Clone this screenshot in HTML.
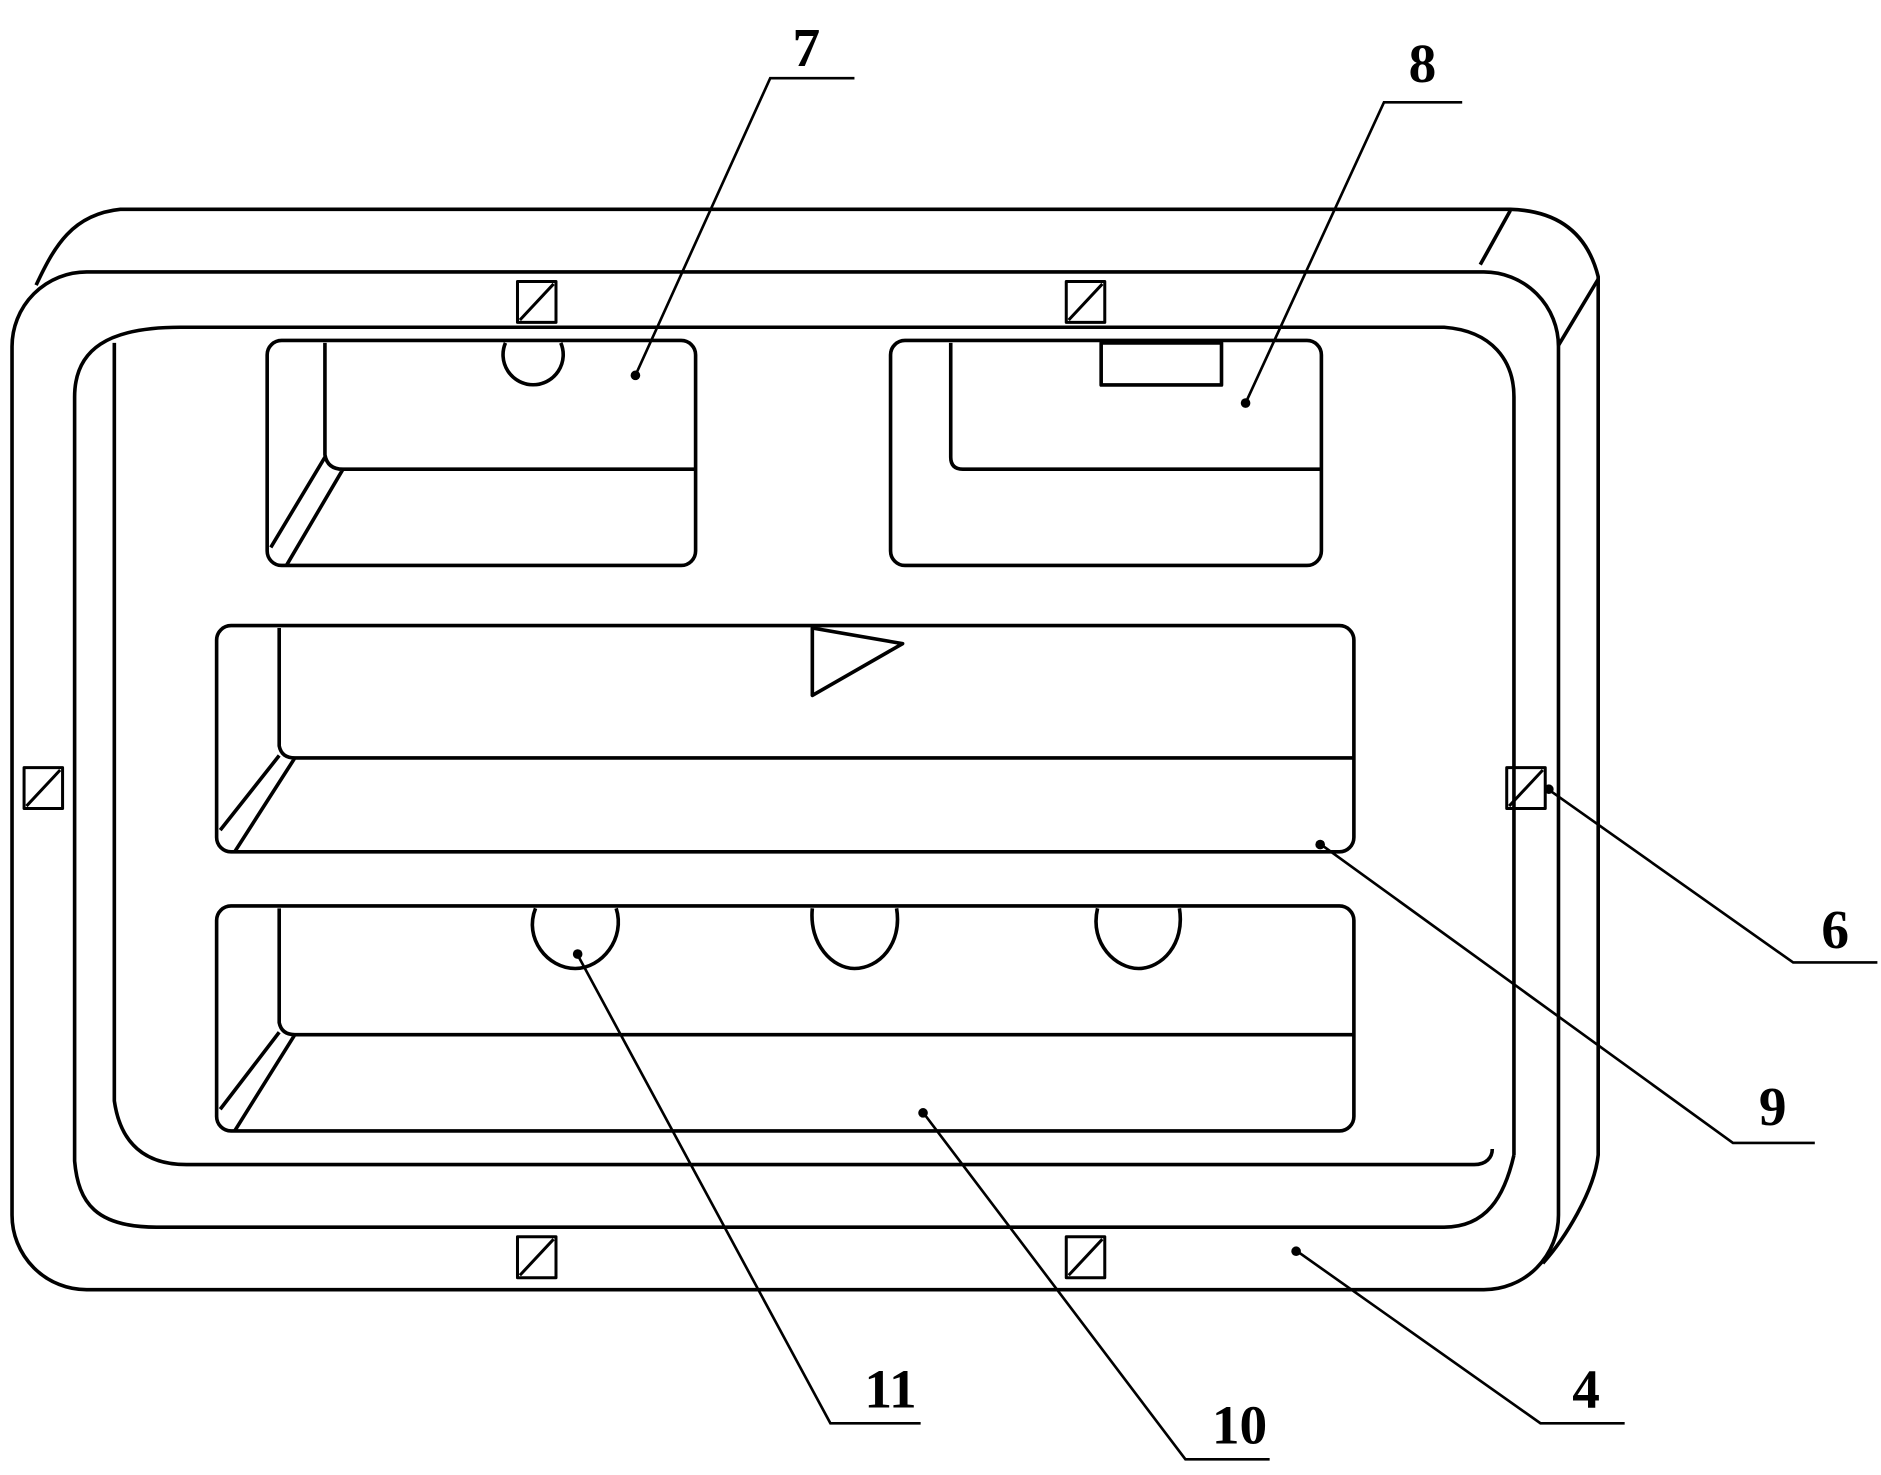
<!DOCTYPE html>
<html><head><meta charset="utf-8"><style>html,body{margin:0;padding:0;background:#fff}svg{display:block}</style></head>
<body>
<svg width="1881" height="1475" viewBox="0 0 1563 1226" preserveAspectRatio="none" xmlns="http://www.w3.org/2000/svg">
<g fill="none" stroke="#000" stroke-width="3" stroke-linejoin="round">
<!-- back outline -->
<path d="M30,237 C45,205 60,178 100,174 L1255,174 C1290,175 1318,190 1328,230 L1328,960 C1325,990 1300,1030 1282,1050"/>
<path d="M1230,220 L1255,175 M1295,287 L1328,232"/>
<!-- front outer -->
<rect x="10" y="226" width="1285" height="846" rx="62"/>
<!-- inner frame -->
<path d="M62,330 C62,290 90,272 150,272 L1200,272 C1240,275 1258,300 1258,330 L1258,960 M62,330 L62,965 C65,1000 80,1020 130,1020 L1200,1020 C1235,1020 1250,995 1258,960"/>
<path d="M95,285 L95,915 C100,950 120,968 155,968 L1225,968 C1235,968 1240,962 1240,955"/>
<!-- 7 -->
<rect x="222" y="283" width="356" height="187" rx="12"/>
<path d="M270,285 L270,378 Q272,390 285,390 L578,390 M225,455 L270,380 M238,470 L285,390"/>
<path d="M420,285 A25,25 0 1 0 466,285" />
<!-- 8 -->
<rect x="740" y="283" width="358" height="187" rx="12"/>
<path d="M790,285 L790,380 Q790,390 800,390 L1098,390"/>
<rect x="915" y="285" width="100" height="35"/>
<!-- 9 -->
<rect x="180" y="520" width="945" height="188" rx="12"/>
<path d="M232,522 L232,620 Q234,630 245,630 L1125,630 M183,690 L232,628 M195,708 L245,630"/>
<path d="M675,522 L750,535 L675,578 Z"/>
<!-- 10 -->
<rect x="180" y="753" width="945" height="187" rx="12"/>
<path d="M232,755 L232,850 Q234,860 245,860 L1125,860 M183,922 L232,858 M195,940 L245,860"/>
<path d="M445,755 C435,780 455,805 478,805 C500,805 520,780 512,755"/>
<path d="M675,755 C672,785 692,805 710,805 C730,805 750,785 745,755"/>
<path d="M912,755 C905,785 928,805 946,805 C965,805 985,785 980,755"/>
<!-- small squares -->
<g stroke-width="2.5">
<rect x="430" y="234" width="32" height="34"/><path d="M432,266 L460,236"/>
<rect x="886" y="234" width="32" height="34"/><path d="M888,266 L916,236"/>
<rect x="430" y="1028" width="32" height="34"/><path d="M432,1060 L460,1030"/>
<rect x="886" y="1028" width="32" height="34"/><path d="M888,1060 L916,1030"/>
<rect x="20" y="638" width="32" height="34"/><path d="M22,670 L50,640"/>
<rect x="1252" y="638" width="32" height="34"/><path d="M1254,670 L1282,640"/>
</g>
</g>
<!-- leaders -->
<g stroke="#000" stroke-width="2.2" fill="none">
<path d="M710,65 L640,65 L528,312"/>
<path d="M1215,85 L1150,85 L1035,335"/>
<path d="M1560,800 L1490,800 L1285,655"/>
<path d="M1508,950 L1440,950 L1095,700"/>
<path d="M1350,1183 L1280,1183 L1075,1038"/>
<path d="M1055,1213 L985,1213 L765,922"/>
<path d="M765,1183 L690,1183 L478,790"/>
</g>
<g fill="#000">
<circle cx="528" cy="312" r="4"/><circle cx="1035" cy="335" r="4"/><circle cx="1287" cy="656" r="4"/>
<circle cx="1097" cy="702" r="4"/><circle cx="1077" cy="1040" r="4"/><circle cx="767" cy="925" r="4"/><circle cx="480" cy="793" r="4"/>
</g>
<g font-family="Liberation Serif, serif" font-weight="bold" font-size="46" fill="#000" text-anchor="middle">
<text x="670" y="55">7</text>
<text x="1182" y="68">8</text>
<text x="1525" y="788">6</text>
<text x="1473" y="935">9</text>
<text x="1318" y="1170">4</text>
<text x="1030" y="1200">10</text>
<text x="740" y="1170">11</text>
</g>
</svg>
</body></html>
